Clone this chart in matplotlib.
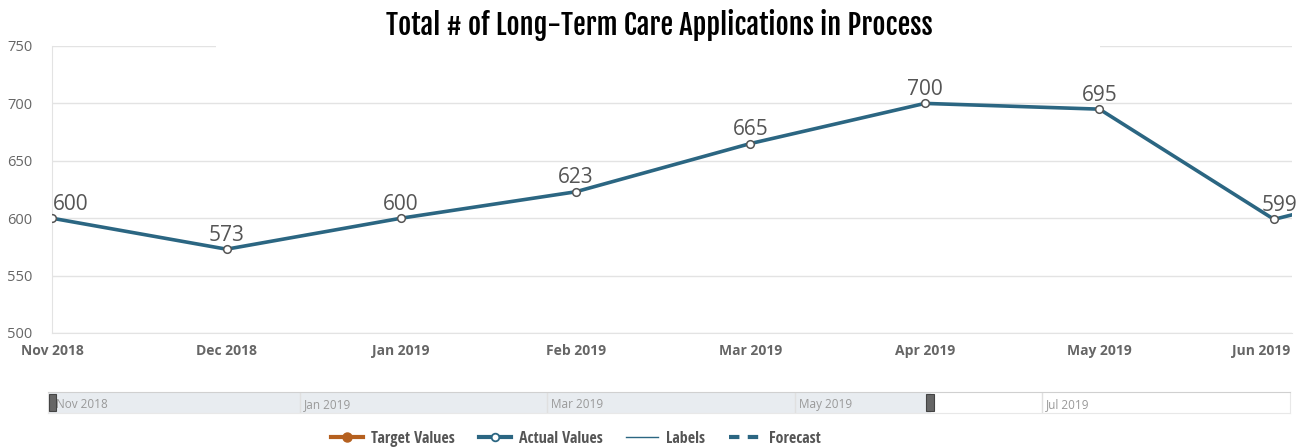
import matplotlib
matplotlib.use("Agg")
import matplotlib.pyplot as plt
import matplotlib.transforms as mtrans
from matplotlib.patches import Rectangle
from matplotlib.lines import Line2D

months = ["Nov 2018", "Dec 2018", "Jan 2019", "Feb 2019", "Mar 2019",
          "Apr 2019", "May 2019", "Jun 2019", "Jul 2019"]
actual = [600, 573, 600, 623, 665, 700, 695, 599, 637]
yticks = [500, 550, 600, 650, 700, 750]
nav_labels = ["Nov 2018", "Jan 2019", "Mar 2019", "May 2019", "Jul 2019"]
nav_pos = [0, 2, 4, 6, 8]
legend_labels = ["Target Values", "Actual Values", "Labels", "Forecast"]

W, H = 1306, 447
fig = plt.figure(figsize=(W / 100, H / 100), dpi=100)
plt.rcParams['font.family'] = ['Open Sans', 'DejaVu Sans']

TEAL = "#2b6682"
GRID = "#e3e3e3"
TXT = "#666666"

ax = fig.add_axes([52 / W, 1 - 333 / H, (1292 - 52) / W, (333 - 46) / H])
x = list(range(len(actual)))
ax.plot(x, actual, color=TEAL, lw=2.6, marker='o', ms=5.5, mfc='white',
        mec="#555555", mew=1.1, zorder=3, clip_on=True)
ax.set_xlim(0, 7 + 18 / 174.6)
ax.set_ylim(500, 750)
ax.set_yticks(yticks)
ax.set_xticks(range(8))
ax.set_xticklabels(months[:8], fontsize=10, fontweight='bold', color=TXT)
ax.set_yticklabels([str(v) for v in yticks], fontsize=10.5, color=TXT)
ax.tick_params(axis='x', length=0, pad=8)
ax.tick_params(axis='y', length=0, pad=14)
ax.grid(axis='y', color=GRID, lw=1)
ax.set_axisbelow(True)
for s in ['top', 'right']:
    ax.spines[s].set_visible(False)
ax.spines['left'].set_color(GRID)
ax.spines['bottom'].set_color(GRID)
xl = ax.get_xticklabels()
xl[-1].set_transform(xl[-1].get_transform() +
                     mtrans.ScaledTranslation(-13 / 100, 0, fig.dpi_scale_trans))

for i in range(8):
    v = actual[i]
    ha = 'center'
    dx = 0
    if i == 0:
        ha = 'left'
        dx = 0.5
    if i == 7:
        dx = 4
    ax.annotate(str(v), (i, v), xytext=(dx, 2.5), textcoords='offset points',
                ha=ha, va='bottom', fontsize=15, color="#555555",
                annotation_clip=False, zorder=4)

# white box behind title covering top gridline
fig.patches.append(Rectangle((216 / W, 1 - 52 / H), (1100 - 216) / W, 12 / H,
                             transform=fig.transFigure, facecolor='white',
                             edgecolor='none', zorder=10))
fig.text(659 / W, 1 - 25 / H, "Total # of Long-Term Care Applications in Process",
         ha='center', va='center', fontsize=20.5,
         family=['Fjalla One', 'DejaVu Sans'], color='black', zorder=11)

# navigator
nav = fig.add_axes([48 / W, 1 - 413 / H, (1290 - 48) / W, (413 - 392) / H])
nav.set_xlim(-0.035, 10.0)
nav.set_ylim(0, 1)
nav.axvspan(-0.035, 7.09, color="#e8ecf0", zorder=0)
for p in nav_pos[1:]:
    nav.axvline(p, color="#e0e0e0", lw=1, zorder=1)
for p, lab in zip(nav_pos, nav_labels):
    nav.text(p + 0.03, 0.4, lab, fontsize=8.5, color="#999999",
             va='center', ha='left', zorder=2)
for hx in [0.0, 7.09]:
    nav.add_patch(Rectangle((hx - 0.03, 0.1), 0.06, 0.8, facecolor="#666666",
                            edgecolor="#444444", lw=0.8, zorder=3))
nav.set_xticks([])
nav.set_yticks([])
for s in ['left', 'right', 'bottom']:
    nav.spines[s].set_color("#e8e8e8")
nav.spines['top'].set_color("#d0d0d0")

handles = [
    Line2D([], [], color="#b5601f", lw=3, marker='o', ms=6.5, mfc="#b5601f", mec="#b5601f"),
    Line2D([], [], color=TEAL, lw=3, marker='o', ms=5.5, mfc='white', mec=TEAL, mew=1.3),
    Line2D([], [], color=TEAL, lw=1.0),
    Line2D([], [], color=TEAL, lw=3, ls=(0, (2.5, 2))),
]
leg = fig.legend(handles, legend_labels,
                 loc='center', bbox_to_anchor=(576 / W, 1 - 439 / H), ncol=4,
                 frameon=False, fontsize=11.5, handlelength=2.0, columnspacing=1.5,
                 handletextpad=0.5)
for t in leg.get_texts():
    t.set_color("#555555")
    t.set_fontweight('bold')
    t.set_family(['Open Sans Condensed', 'DejaVu Sans'])

fig.savefig("out.png", dpi=100)
